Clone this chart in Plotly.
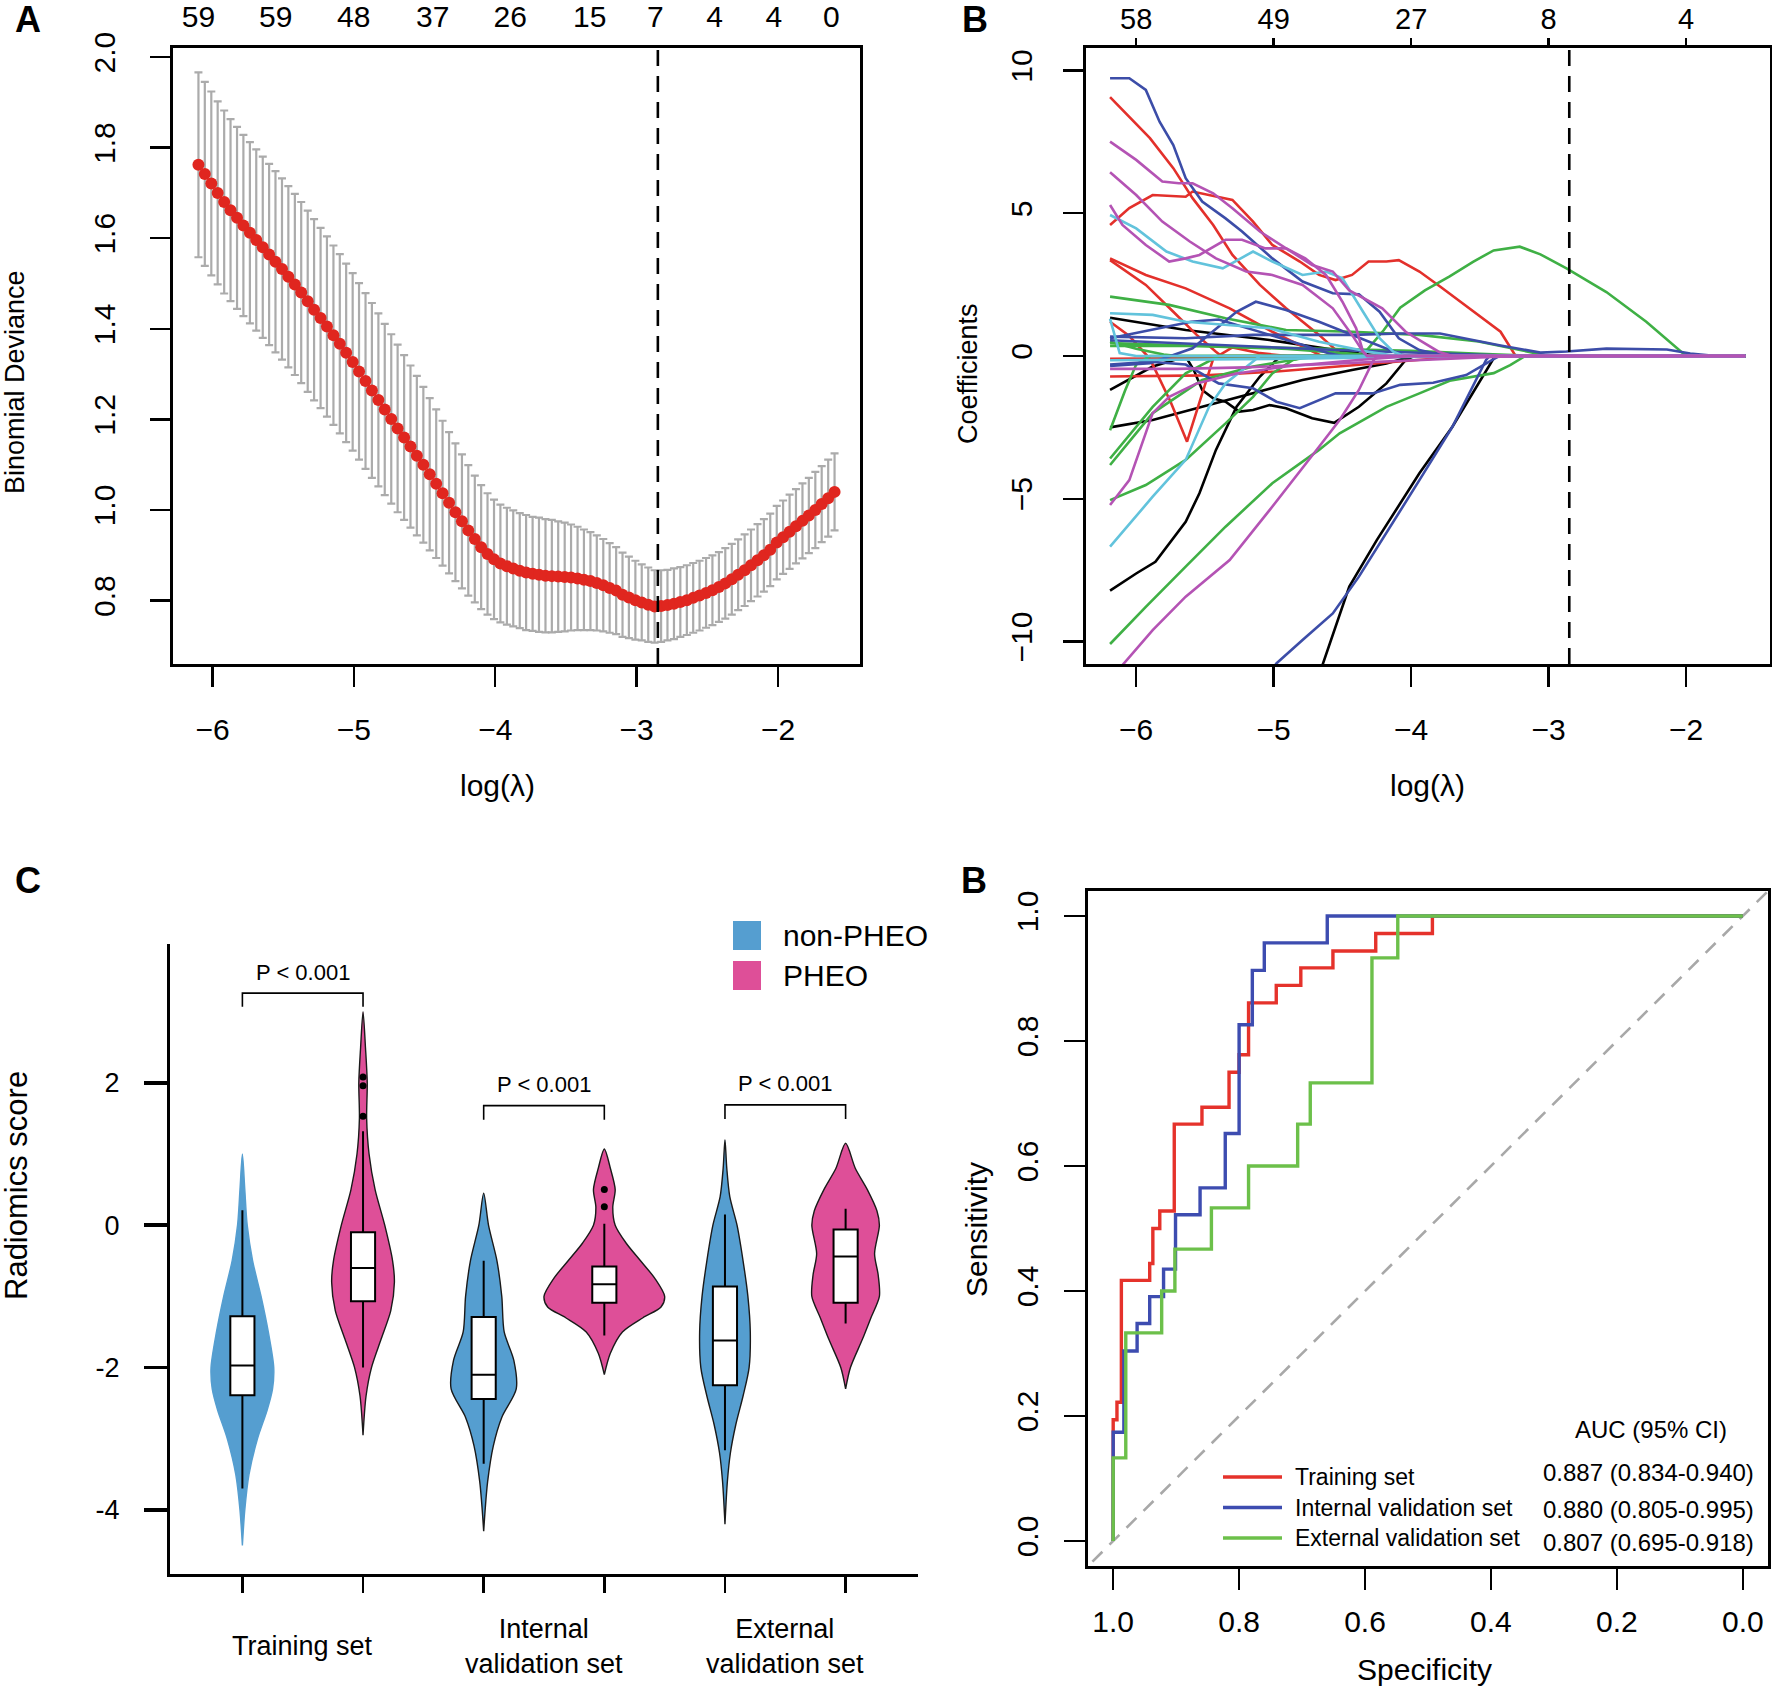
import plotly.graph_objects as go

FONT = "Liberation Sans, Arial, sans-serif"
W, H = 1772, 1686


def fx(px):
    return px / W


def fy(py):
    return 1 - py / H


# ---------------- A: cross-validated binomial deviance ----------------
cv_log_lambda = [
    -6.100, -6.055, -6.009, -5.964, -5.918, -5.873, -5.827, -5.782, -5.736, -5.691,
    -5.645, -5.600, -5.555, -5.509, -5.464, -5.418, -5.373, -5.327, -5.282, -5.236,
    -5.191, -5.145, -5.100, -5.055, -5.009, -4.964, -4.918, -4.873, -4.827, -4.782,
    -4.736, -4.691, -4.645, -4.600, -4.555, -4.509, -4.464, -4.418, -4.373, -4.327,
    -4.282, -4.236, -4.191, -4.145, -4.100, -4.055, -4.009, -3.964, -3.918, -3.873,
    -3.827, -3.782, -3.736, -3.691, -3.645, -3.600, -3.555, -3.509, -3.464, -3.418,
    -3.373, -3.327, -3.282, -3.236, -3.191, -3.145, -3.100, -3.055, -3.009, -2.964,
    -2.918, -2.873, -2.827, -2.782, -2.736, -2.691, -2.645, -2.600, -2.555, -2.509,
    -2.464, -2.418, -2.373, -2.327, -2.282, -2.236, -2.191, -2.145, -2.100, -2.055,
    -2.009, -1.964, -1.918, -1.873, -1.827, -1.782, -1.736, -1.691, -1.645, -1.600,
]
cv_deviance = [
    1.762, 1.742, 1.721, 1.700, 1.680, 1.662, 1.645, 1.628, 1.612, 1.596,
    1.580, 1.564, 1.548, 1.532, 1.515, 1.498, 1.480, 1.461, 1.442, 1.424,
    1.405, 1.386, 1.367, 1.347, 1.327, 1.306, 1.285, 1.264, 1.243, 1.222,
    1.201, 1.180, 1.160, 1.140, 1.120, 1.100, 1.079, 1.058, 1.037, 1.016,
    0.995, 0.975, 0.955, 0.936, 0.918, 0.903, 0.891, 0.882, 0.876, 0.871,
    0.866, 0.862, 0.859, 0.857, 0.855, 0.854, 0.853, 0.852, 0.851, 0.849,
    0.846, 0.843, 0.839, 0.834, 0.828, 0.822, 0.813, 0.807, 0.801, 0.796,
    0.791, 0.787, 0.788, 0.790, 0.793, 0.797, 0.801, 0.806, 0.811, 0.817,
    0.823, 0.830, 0.838, 0.847, 0.857, 0.867, 0.878, 0.889, 0.900, 0.912,
    0.928, 0.940, 0.952, 0.964, 0.976, 0.988, 1.000, 1.013, 1.026, 1.040,
]
cv_se = [
    0.204, 0.203, 0.203, 0.202, 0.202, 0.201, 0.201, 0.200, 0.200, 0.200,
    0.200, 0.200, 0.200, 0.200, 0.200, 0.200, 0.200, 0.200, 0.200, 0.199,
    0.199, 0.198, 0.198, 0.197, 0.196, 0.195, 0.194, 0.193, 0.191, 0.189,
    0.187, 0.185, 0.182, 0.179, 0.176, 0.172, 0.168, 0.164, 0.160, 0.156,
    0.152, 0.148, 0.144, 0.140, 0.137, 0.134, 0.132, 0.130, 0.129, 0.128,
    0.127, 0.127, 0.126, 0.126, 0.125, 0.124, 0.122, 0.120, 0.117, 0.114,
    0.111, 0.108, 0.105, 0.102, 0.099, 0.096, 0.093, 0.090, 0.087, 0.084,
    0.082, 0.080, 0.079, 0.078, 0.078, 0.077, 0.077, 0.077, 0.077, 0.077,
    0.077, 0.077, 0.078, 0.078, 0.078, 0.079, 0.079, 0.080, 0.080, 0.080,
    0.081, 0.081, 0.082, 0.082, 0.083, 0.083, 0.084, 0.084, 0.085, 0.085,
]
cv_top_pos = [-6.100, -5.554, -5.002, -4.443, -3.895, -3.332, -2.868, -2.449, -2.030, -1.622]
cv_top_nz = ["59", "59", "48", "37", "26", "15", "7", "4", "4", "0"]
LOG_LAMBDA_MIN = -2.85

# ---------------- B: coefficient paths ----------------
path_top_pos = [-6, -5, -4, -3, -2]
path_top_nz = ["58", "49", "27", "8", "4"]
PATH_END = -1.57

black_paths = [
    ([-6.19, -5.64, -5.03, -4.38, -4.2], [1.34, 0.91, 0.56, 0.09, 0.0]),
    ([-6.19, -5.88, -5.64, -5.58, -5.52, -5.44, -5.35, -5.25, -5.15, -5.03, -4.91, -4.72, -4.56, -4.38, -4.18, -4.04, -3.98],
     [-1.19, -0.37, -0.02, -0.5, -1.19, -1.48, -1.6, -1.95, -1.89, -1.72, -1.83, -2.18, -2.34, -1.78, -0.96, -0.14, 0.0]),
    ([-6.19, -5.88, -5.52, -5.15, -4.79, -4.43, -4.18, -3.99], [-2.5, -2.24, -1.78, -1.31, -0.84, -0.49, -0.26, 0.0]),
    ([-6.19, -6.0, -5.86, -5.64, -5.54, -5.42, -5.27, -5.10, -4.98, -4.93], [-8.22, -7.62, -7.21, -5.81, -4.81, -3.29, -1.78, -0.72, -0.14, 0.0]),
    ([-4.70, -4.64, -4.45, -4.25, -3.94, -3.70, -3.41, -3.39], [-11.6, -10.77, -8.08, -6.45, -4.11, -2.48, -0.14, 0.0]),
]
red_paths = [
    ([-6.19, -5.90, -5.73, -5.59, -5.44, -5.30, -5.10, -4.91, -4.67, -4.52, -4.48], [9.07, 7.63, 6.58, 5.53, 4.59, 3.54, 2.49, 1.67, 0.74, 0.09, 0.0]),
    ([-6.19, -6.05, -5.88, -5.64, -5.59, -5.40, -5.30, -5.15, -5.01, -4.81, -4.67, -4.55, -4.43, -4.31, -4.18, -4.09, -3.94, -3.78, -3.60, -3.45, -3.35, -3.24],
     [4.59, 5.18, 5.64, 5.58, 5.76, 5.58, 5.47, 4.71, 3.89, 3.31, 2.84, 2.66, 2.84, 3.31, 3.31, 3.36, 2.96, 2.40, 1.75, 1.20, 0.85, 0.0]),
    ([-6.19, -5.93, -5.64, -5.32, -5.01, -4.79, -4.65], [3.42, 2.84, 2.37, 1.67, 0.85, 0.33, 0.0]),
    ([-6.19, -5.93, -5.73, -5.56, -5.42, -5.38], [3.36, 2.49, 1.55, 0.74, 0.15, 0.0]),
    ([-6.19, -6.05, -5.90, -5.75, -5.63, -5.55, -5.44, -5.30, -5.10, -4.90], [1.2, 0.7, -0.1, -1.6, -3.0, -1.8, -0.1, 0.3, 0.1, 0.0]),
    ([-6.19, -5.5, -5.0, -4.5, -4.0, -3.6], [-0.72, -0.68, -0.55, -0.35, -0.15, 0.0]),
    ([-6.19, -5.6, -5.0, -4.5], [-0.1, -0.08, -0.05, 0.0]),
]
green_paths = [
    ([-6.19, -5.76, -5.35, -4.91, -4.43, -3.94, -3.51, -3.07, -3.0], [2.08, 1.79, 1.32, 0.91, 0.85, 0.74, 0.51, 0.09, 0.0]),
    ([-6.19, -5.5, -4.9, -4.35, -4.20, -4.08, -3.90, -3.72, -3.55, -3.40, -3.21, -3.06, -2.87, -2.58, -2.29, -2.0],
     [0.45, 0.35, 0.25, 0.05, 0.9, 1.69, 2.3, 2.79, 3.3, 3.70, 3.83, 3.56, 3.07, 2.24, 1.20, 0.0]),
    ([-6.19, -5.93, -5.64, -5.35, -5.01, -4.67, -4.52, -4.18, -3.94, -3.72, -3.40, -3.28, -3.17],
     [-10.09, -8.79, -7.38, -5.98, -4.46, -3.29, -2.71, -1.78, -1.31, -0.87, -0.6, -0.32, 0.0]),
    ([-6.19, -6.08, -6.0, -5.9], [-2.6, -1.2, -0.3, 0.0]),
    ([-6.19, -5.88, -5.64, -5.40], [-3.59, -1.78, -0.61, 0.0]),
    ([-6.19, -5.88, -5.52, -5.15, -4.79, -4.6], [-3.82, -2.0, -0.84, -0.37, -0.08, 0.0]),
    ([-6.19, -5.93, -5.64, -5.35, -5.15, -5.01, -4.86, -4.75], [-5.05, -4.52, -3.64, -2.36, -1.43, -0.61, -0.14, 0.0]),
    ([-6.19, -6.0, -5.8, -5.7], [0.5, 0.25, 0.05, 0.0]),
    ([-6.19, -5.5, -5.0, -4.5, -4.0, -3.5, -3.1], [0.35, 0.35, 0.3, 0.25, 0.18, 0.08, 0.0]),
]
blue_paths = [
    ([-6.19, -6.05, -5.93, -5.83, -5.73, -5.64, -5.52, -5.35, -5.23, -5.01, -4.79, -4.57, -4.38, -4.23, -4.09, -3.94, -3.75],
     [9.73, 9.73, 9.32, 8.21, 7.39, 6.23, 5.41, 4.82, 4.36, 3.42, 2.61, 2.2, 2.16, 1.55, 0.62, 0.21, 0.0]),
    ([-6.19, -5.64, -5.15, -4.43, -4.08, -3.79, -3.35, -3.06, -2.87, -2.58, -2.14, -1.97, -1.78],
     [0.68, 0.62, 0.74, 0.74, 0.79, 0.79, 0.37, 0.12, 0.16, 0.26, 0.23, 0.09, 0.0]),
    ([-6.19, -5.9, -5.59, -5.27, -5.13, -4.91, -4.67, -4.43, -4.23, -4.06, -4.0], [-0.35, -0.25, 0.27, 1.55, 1.9, 1.61, 1.2, 0.74, 0.33, 0.03, 0.0]),
    ([-6.19, -5.9, -5.6, -5.4, -5.2, -5.0, -4.8, -4.6, -4.5], [0.62, 0.9, 1.2, 1.28, 1.0, 0.7, 0.4, 0.1, 0.0]),
    ([-5.10, -4.98, -4.79, -4.57, -4.38, -4.18, -3.94, -3.70, -3.455, -3.43], [-11.6, -10.77, -9.95, -9.02, -7.73, -6.21, -4.35, -2.48, -0.14, 0.0]),
    ([-6.19, -5.9, -5.64, -5.4, -5.15, -4.98, -4.81, -4.55, -4.28, -4.08, -3.84, -3.60, -3.40, -3.36],
     [-0.3, -0.2, -0.3, -0.96, -1.13, -1.6, -1.83, -1.31, -1.31, -1.01, -0.94, -0.67, -0.11, 0.0]),
    ([-6.19, -5.5, -5.0, -4.5, -4.0, -3.5, -3.2], [0.55, 0.4, 0.3, 0.2, 0.12, 0.05, 0.0]),
]
cyan_paths = [
    ([-6.19, -6.0, -5.78, -5.59, -5.37, -5.15, -5.01, -4.79, -4.62, -4.50, -4.35, -4.23, -4.13, -4.05],
     [4.94, 4.47, 3.66, 3.31, 3.07, 3.66, 3.31, 2.84, 2.96, 2.72, 1.55, 0.62, 0.15, 0.0]),
    ([-6.19, -5.88, -5.64, -5.35, -5.03, -4.67, -4.31, -4.1], [1.50, 1.44, 1.2, 1.09, 0.97, 0.5, 0.15, 0.0]),
    ([-6.19, -5.88, -5.64, -5.47, -5.35, -5.2, -5.1], [-6.68, -4.93, -3.64, -1.78, -0.96, -0.37, 0.0]),
    ([-6.19, -6.12, -6.0], [1.3, 0.1, 0.0]),
    ([-6.19, -5.5, -5.0, -4.0, -3.3], [-0.15, -0.12, -0.1, -0.03, 0.0]),
]
magenta_paths = [
    ([-6.19, -6.0, -5.81, -5.69, -5.59, -5.44, -5.30, -5.10, -4.91, -4.72, -4.57, -4.45, -4.21, -4.04, -3.80, -3.70],
     [7.51, 6.87, 6.11, 6.05, 6.05, 5.70, 5.18, 4.36, 3.77, 3.19, 2.96, 2.30, 1.67, 0.85, 0.15, 0.0]),
    ([-6.19, -6.0, -5.81, -5.61, -5.42, -5.2, -5.01, -4.79, -4.57, -4.43, -4.35, -4.32], [6.44, 5.64, 4.71, 4.01, 3.42, 2.96, 2.84, 2.49, 1.67, 0.74, 0.15, 0.0]),
    ([-6.19, -6.1, -5.93, -5.76, -5.64, -5.54, -5.35, -5.23, -5.06, -4.91, -4.77, -4.62, -4.5, -4.4, -4.35, -4.32],
     [5.29, 4.59, 3.89, 3.31, 3.42, 3.54, 4.07, 4.07, 3.77, 3.77, 3.42, 2.84, 1.9, 0.97, 0.15, 0.0]),
    ([-6.19, -6.1, -5.88, -5.64, -5.32, -5.03, -4.67, -4.52, -4.38, -4.28, -4.25], [-11.5, -10.83, -9.6, -8.43, -7.15, -5.4, -3.18, -2.24, -1.19, -0.2, 0.0]),
    ([-6.19, -6.05, -5.88, -5.76, -5.56, -5.27, -4.91, -4.43, -4.0], [-5.22, -4.35, -2.0, -1.43, -0.96, -0.61, -0.37, -0.16, 0.0]),
    ([-6.19, -5.7, -5.2, -4.5, -4.0, -3.5, -3.2], [-0.45, -0.45, -0.4, -0.25, -0.15, -0.05, 0.0]),
]
path_groups = [
    ("#000000", black_paths), ("#E3302B", red_paths), ("#3FB045", green_paths),
    ("#3C4DA8", blue_paths), ("#62C3DC", cyan_paths), ("#B453B4", magenta_paths),
]

# ---------------- C: radiomics score violins ----------------
violin_pos = [1, 2, 3, 4, 5, 6]
violin_color = ["#559ED0", "#DE4F98", "#559ED0", "#DE4F98", "#559ED0", "#DE4F98"]
violin_y = [
    [1.0, 0.5, 0.0, -0.5, -1.0, -1.5, -2.0, -2.3, -2.6, -3.0, -3.5, -4.0, -4.5],
    [3.0, 2.5, 2.0, 1.5, 1.0, 0.5, 0.0, -0.5, -0.8, -1.2, -1.6, -2.0, -2.4, -2.95],
    [0.45, 0.0, -0.5, -1.0, -1.5, -1.9, -2.3, -2.7, -3.1, -3.6, -4.0, -4.3],
    [1.07, 0.8, 0.5, 0.25, 0.0, -0.25, -0.5, -0.75, -1.0, -1.15, -1.3, -1.5, -1.8, -2.1],
    [1.2, 0.8, 0.4, 0.0, -0.5, -1.0, -1.5, -2.0, -2.4, -2.8, -3.2, -3.6, -4.2],
    [1.15, 0.8, 0.5, 0.2, 0.0, -0.4, -0.7, -1.0, -1.3, -1.6, -2.0, -2.3],
]
violin_hw = [
    [0.0, 0.02, 0.04, 0.085, 0.155, 0.215, 0.26, 0.25, 0.205, 0.125, 0.055, 0.02, 0.0],
    [0.0, 0.02, 0.035, 0.03, 0.05, 0.1, 0.18, 0.245, 0.26, 0.23, 0.15, 0.07, 0.025, 0.0],
    [0.0, 0.04, 0.11, 0.15, 0.17, 0.25, 0.27, 0.15, 0.08, 0.033, 0.012, 0.0],
    [0.0, 0.05, 0.09, 0.07, 0.09, 0.18, 0.3, 0.42, 0.5, 0.47, 0.32, 0.15, 0.05, 0.0],
    [0.0, 0.015, 0.04, 0.1, 0.15, 0.19, 0.21, 0.2, 0.15, 0.09, 0.045, 0.02, 0.0],
    [0.0, 0.08, 0.18, 0.26, 0.28, 0.24, 0.27, 0.28, 0.21, 0.14, 0.04, 0.0],
]
box_q1 = [-2.39, -1.07, -2.44, -1.09, -2.25, -1.09]
box_median = [-1.97, -0.60, -2.10, -0.83, -1.62, -0.44]
box_q3 = [-1.28, -0.10, -1.29, -0.58, -0.86, -0.06]
box_low = [-3.70, -2.00, -3.35, -1.55, -3.16, -1.38]
box_high = [0.21, 1.32, -0.50, 0.02, 0.15, 0.23]
outlier_pos = [2, 2, 2, 4, 4]
outlier_val = [1.53, 1.96, 2.08, 0.26, 0.50]
bracket_left = [1, 3, 5]
bracket_right = [2, 4, 6]
bracket_top = [3.26, 1.68, 1.69]
bracket_bottom = [3.07, 1.48, 1.49]
group_label_pos = [1.5, 3.5, 5.5]
group_labels = ["Training set", "Internal<br>validation set", "External<br>validation set"]
legend_c_names = ["non-PHEO", "PHEO"]
legend_c_colors = ["#559ED0", "#DE4F98"]

# ---------------- D: ROC curves ----------------
roc_train_spec = [1.0, 0.994, 0.987, 0.942, 0.937, 0.926, 0.903, 0.859, 0.816, 0.800, 0.785, 0.741, 0.702, 0.651, 0.583, 0.493, 0.0]
roc_train_sens = [0.0, 0.194, 0.222, 0.417, 0.444, 0.500, 0.528, 0.667, 0.694, 0.750, 0.778, 0.861, 0.889, 0.917, 0.944, 0.972, 1.0]
roc_int_spec = [1.0, 0.983, 0.962, 0.942, 0.920, 0.901, 0.862, 0.822, 0.800, 0.779, 0.760, 0.660, 0.0]
roc_int_sens = [0.0, 0.174, 0.304, 0.348, 0.391, 0.435, 0.522, 0.565, 0.652, 0.826, 0.913, 0.957, 1.0]
roc_ext_spec = [1.0, 0.980, 0.923, 0.902, 0.844, 0.785, 0.707, 0.687, 0.589, 0.548, 0.0]
roc_ext_sens = [0.0, 0.133, 0.333, 0.400, 0.467, 0.533, 0.600, 0.667, 0.733, 0.933, 1.0]
roc_names = ["Training set", "Internal validation set", "External validation set"]
roc_colors = ["#E5322B", "#3D4CB0", "#6CC04A"]
roc_auc = ["0.887 (0.834-0.940)", "0.880 (0.805-0.995)", "0.807 (0.695-0.918)"]

fig = go.Figure()
shapes = []


def label(x, y, text, size, xref="paper", yref="paper", xanchor="center", yanchor="middle", angle=0):
    fig.add_annotation(x=x, y=y, xref=xref, yref=yref, text=text, showarrow=False,
                       xanchor=xanchor, yanchor=yanchor, textangle=angle, font=dict(size=size))


# A
fig.add_trace(go.Scatter(
    x=cv_log_lambda, y=cv_deviance, mode="markers", xaxis="x", yaxis="y",
    marker=dict(size=12, color="#E0261F"),
    error_y=dict(type="data", array=cv_se, color="#ABABAB", thickness=2.2, width=4),
    hoverinfo="skip"))
fig.add_trace(go.Scatter(x=[cv_top_pos[0]], y=[1.0], xaxis="x5", yaxis="y", mode="markers",
                         marker=dict(opacity=0), hoverinfo="skip"))

# B
for color, paths in path_groups:
    for xs, ys in paths:
        fig.add_trace(go.Scatter(
            x=xs + [PATH_END], y=ys + [0.0], mode="lines", xaxis="x2", yaxis="y2",
            line=dict(color=color, width=2.6), hoverinfo="skip"))
fig.add_trace(go.Scatter(x=[path_top_pos[0]], y=[0.0], xaxis="x6", yaxis="y2", mode="markers",
                         marker=dict(opacity=0), hoverinfo="skip"))
for ax in ["x", "x2"]:
    shapes.append(dict(type="line", xref=ax, yref="y%s domain" % ax[1:], x0=LOG_LAMBDA_MIN,
                       x1=LOG_LAMBDA_MIN, y0=0, y1=1,
                       line=dict(color="black", width=2.6, dash="16px,10px")))

# C: violins on x3, boxes on an overlaid axis so they sit above the violins
for i in range(len(violin_pos)):
    c = violin_pos[i]
    xs = [c + w for w in violin_hw[i]] + [c - w for w in reversed(violin_hw[i])]
    ys = violin_y[i] + list(reversed(violin_y[i]))
    edge = violin_color[i] if i == 0 else "#1A1A1A"
    fig.add_trace(go.Scatter(
        x=xs, y=ys, mode="lines", fill="toself", fillcolor=violin_color[i],
        line=dict(color=edge, width=1.4, shape="spline", smoothing=0.8),
        xaxis="x3", yaxis="y3", hoverinfo="skip"))
for i in range(len(violin_pos)):
    fig.add_trace(go.Box(
        x=[violin_pos[i]], q1=[box_q1[i]], median=[box_median[i]], q3=[box_q3[i]],
        lowerfence=[box_low[i]], upperfence=[box_high[i]], width=0.2, whiskerwidth=0,
        orientation="v", fillcolor="white", line=dict(color="black", width=2), boxpoints=False,
        xaxis="x7", yaxis="y3", hoverinfo="skip"))
fig.add_trace(go.Scatter(x=outlier_pos, y=outlier_val, mode="markers", xaxis="x7", yaxis="y3",
                         marker=dict(color="black", size=7), hoverinfo="skip"))
for l, r, top, bot in zip(bracket_left, bracket_right, bracket_top, bracket_bottom):
    fig.add_trace(go.Scatter(x=[l, l, r, r], y=[bot, top, top, bot], mode="lines",
                             xaxis="x3", yaxis="y3", line=dict(color="black", width=1.6),
                             hoverinfo="skip"))
    label((l + r) / 2, top + 0.09, "P &lt; 0.001", 22, xref="x3", yref="y3", yanchor="bottom")
for pos, lab in zip(group_label_pos, group_labels):
    label(pos, fy(1646), lab, 27, xref="x3")
for k, (nm, col) in enumerate(zip(legend_c_names, legend_c_colors)):
    top = 921 + 40 * k
    shapes.append(dict(type="rect", xref="paper", yref="paper", x0=fx(733), x1=fx(761),
                       y0=fy(top + 29), y1=fy(top), fillcolor=col, line=dict(width=0)))
    label(fx(781), fy(top + 14), nm, 30, xanchor="left")

# D
fig.add_trace(go.Scatter(x=[1.06, -0.06], y=[-0.06, 1.06], mode="lines", xaxis="x4", yaxis="y4",
                         line=dict(color="#A8A8A8", width=2.6, dash="14px,10px"),
                         hoverinfo="skip"))
for sx, sy, col in zip([roc_train_spec, roc_int_spec, roc_ext_spec],
                       [roc_train_sens, roc_int_sens, roc_ext_sens], roc_colors):
    fig.add_trace(go.Scatter(x=sx, y=sy, mode="lines",
                             line=dict(color=col, width=3.4, shape="vh"),
                             xaxis="x4", yaxis="y4", hoverinfo="skip"))
for k, (nm, col) in enumerate(zip(roc_names, roc_colors)):
    ypx = 1477 + 30.5 * k
    shapes.append(dict(type="line", xref="paper", yref="paper", x0=fx(1223), x1=fx(1282),
                       y0=fy(ypx), y1=fy(ypx), line=dict(color=col, width=3.4)))
    label(fx(1293), fy(ypx), nm, 23, xanchor="left")
label(0.146, 0.179, "AUC (95% CI)", 24, xref="x4", yref="y4")
for yv, txt in zip([0.109, 0.050, -0.002], roc_auc):
    label(-0.021, yv, txt, 24, xref="x4", yref="y4", xanchor="right")

# axis titles and panel letters
titles = [
    ("Binomial Deviance", 15, 382, -90, 27), ("log(λ)", 497, 785, 0, 30),
    ("Coefficients", 968, 374, -90, 27), ("log(λ)", 1427, 785, 0, 30),
    ("Radiomics score", 16, 1186, -90, 31), ("Sensitivity", 976, 1230, -90, 30),
    ("Specificity", 1424, 1669, 0, 30),
]
for txt, px, py, ang, fs in titles:
    label(fx(px), fy(py), txt, fs, angle=ang)
for txt, px, py in [("A", 28, 19), ("B", 975, 19), ("C", 28, 880), ("B", 974, 880)]:
    label(fx(px), fy(py), "<b>%s</b>" % txt, 36)

frame = dict(showline=True, mirror=True, linecolor="black", linewidth=2.6, ticks="outside",
             ticklen=20, tickwidth=2.4, tickcolor="black", showgrid=False, zeroline=False,
             tickfont=dict(size=30), automargin=False)
plain = dict(showgrid=False, zeroline=False, automargin=False)


def minus(v):
    return ("%g" % v).replace("-", "\u2212")


fig.update_layout(
    width=W, height=H, margin=dict(l=0, r=0, t=0, b=0, autoexpand=False),
    paper_bgcolor="white", plot_bgcolor="white", boxmode="overlay", showlegend=False,
    font=dict(family=FONT, color="black"), shapes=shapes,
    xaxis=dict(frame, domain=[fx(173), fx(860)], anchor="y", range=[-6.28, -1.42],
               tickvals=[-6, -5, -4, -3, -2], ticktext=[minus(v) for v in [-6, -5, -4, -3, -2]],
               ticklabelstandoff=17),
    yaxis=dict(frame, domain=[fy(664), fy(48)], anchor="x", range=[0.66, 2.02],
               tickvals=[0.8, 1.0, 1.2, 1.4, 1.6, 1.8, 2.0],
               ticktext=["0.8", "1.0", "1.2", "1.4", "1.6", "1.8", "2.0"], tickangle=-90,
               ticklabelstandoff=23),
    xaxis5=dict(plain, overlaying="x", side="top", anchor="y", range=[-6.28, -1.42], tickvals=cv_top_pos,
                ticktext=cv_top_nz, ticks="", showline=False,
                tickfont=dict(size=30), ticklabelstandoff=14),
    xaxis2=dict(frame, domain=[fx(1086), fx(1770)], anchor="y2", range=[-6.365, -1.39],
                tickvals=[-6, -5, -4, -3, -2], ticktext=[minus(v) for v in [-6, -5, -4, -3, -2]],
                ticklabelstandoff=17),
    yaxis2=dict(frame, domain=[fy(664), fy(48)], anchor="x2", range=[-10.79, 10.79],
                tickvals=[-10, -5, 0, 5, 10], ticktext=[minus(v) for v in [-10, -5, 0, 5, 10]],
                tickangle=-90, ticklabelstandoff=19),
    xaxis6=dict(plain, overlaying="x2", side="top", anchor="y2", range=[-6.365, -1.39], tickvals=path_top_pos,
                ticktext=path_top_nz, ticks="outside", ticklen=9, tickwidth=2.4, tickcolor="black",
                showline=False, tickfont=dict(size=29), ticklabelstandoff=-3),
    xaxis3=dict(plain, domain=[fx(170), fx(918)], anchor="y3", range=[0.4, 6.6], tickvals=violin_pos,
                ticktext=[""] * 6, showline=True, linecolor="black", linewidth=3, ticks="outside",
                ticklen=16, tickwidth=2.6, tickcolor="black"),
    xaxis7=dict(plain, overlaying="x3", anchor="y3", range=[0.4, 6.6], visible=False),
    yaxis3=dict(plain, domain=[fy(1574), fy(944)], anchor="x3", range=[-4.9, 3.95],
                tickvals=[-4, -2, 0, 2], ticktext=["-4", "-2", "0", "2"], showline=True,
                linecolor="black", linewidth=3, ticks="outside", ticklen=23, tickwidth=3.4,
                tickcolor="black", tickfont=dict(size=27), ticklabelstandoff=19),
    xaxis4=dict(frame, domain=[fx(1088), fx(1768)], anchor="y4", range=[1.04, -0.04],
                tickvals=[1.0, 0.8, 0.6, 0.4, 0.2, 0.0], ticklen=21,
                ticktext=["1.0", "0.8", "0.6", "0.4", "0.2", "0.0"], ticklabelstandoff=6),
    yaxis4=dict(frame, domain=[fy(1566), fy(891)], anchor="x4", range=[-0.04, 1.04],
                tickvals=[0.0, 0.2, 0.4, 0.6, 0.8, 1.0], ticklen=21,
                ticktext=["0.0", "0.2", "0.4", "0.6", "0.8", "1.0"], tickangle=-90,
                ticklabelstandoff=14),
)

# the browser's default 8px body margin would push the figure off the page edge
fig.write_html("out.html", config={"displayModeBar": False, "staticPlot": True},
               post_script="document.body.style.margin = '0px';")
